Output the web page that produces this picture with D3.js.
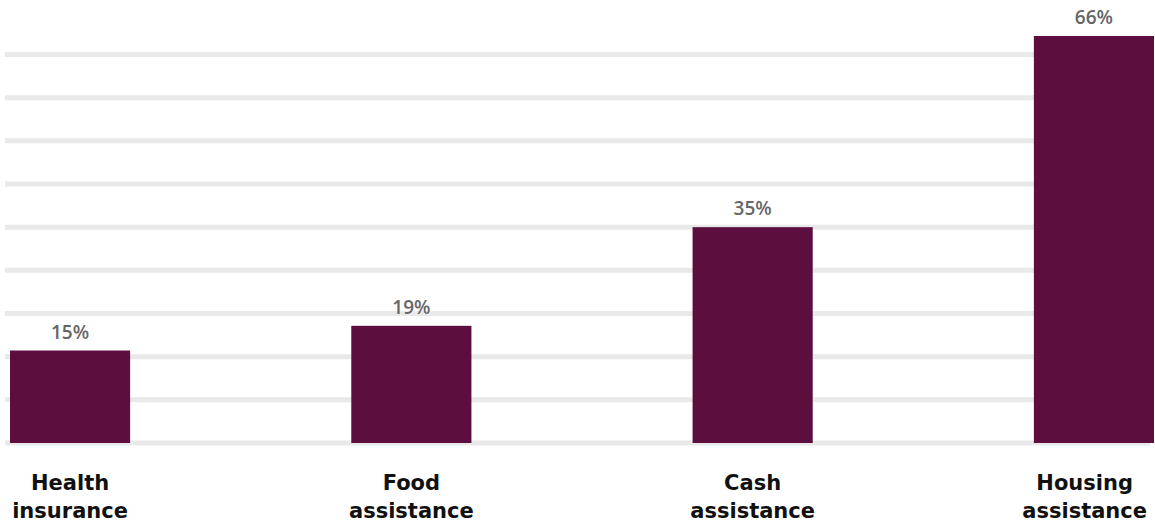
<!DOCTYPE html>
<html>
<head>
<meta charset="utf-8">
<script src="https://cdn.jsdelivr.net/npm/d3@7"></script>
<style>
  html, body { margin: 0; padding: 0; background: #fff; }
  svg { display: block; }
</style>
</head>
<body>
<svg id="chart" width="1155" height="522"></svg>
<script>
// Share of households receiving each kind of support
const categories = ["Health insurance", "Food assistance", "Cash assistance", "Housing assistance"];
const labelLines = [["Health", "insurance"], ["Food", "assistance"], ["Cash", "assistance"], ["Housing", "assistance"]];
const values = [15, 19, 35, 66];
const valueLabels = ["15%", "19%", "35%", "66%"];
const gridValues = d3.range(0, 64, 7);

const W = 1155;
const svg = d3.select("#chart");

const x = d3.scaleBand()
  .domain(categories)
  .range([10, 1154])
  .paddingInner(0.648)
  .paddingOuter(0);

const y = d3.scaleLinear()
  .domain([0, 66])
  .range([443, 36]);

// horizontal gridlines
svg.append("g")
  .selectAll("line")
  .data(gridValues)
  .join("line")
  .attr("x1", 5)
  .attr("x2", 1150)
  .attr("y1", d => y(d))
  .attr("y2", d => y(d))
  .attr("stroke", "#e9e9e9")
  .attr("stroke-width", 5);

// bars
svg.append("g")
  .selectAll("rect")
  .data(values)
  .join("rect")
  .attr("x", (d, i) => x(categories[i]))
  .attr("width", x.bandwidth())
  .attr("y", d => y(d))
  .attr("height", d => y(0) - y(d))
  .attr("fill", "#5c0f3e");

// value labels
svg.append("g")
  .selectAll("text")
  .data(values)
  .join("text")
  .attr("x", (d, i) => x(categories[i]) + x.bandwidth() / 2)
  .attr("y", d => y(d) - 12)
  .attr("text-anchor", "middle")
  .attr("font-family", "'Open Sans', sans-serif")
  .attr("font-weight", 600)
  .attr("font-size", 19)
  .attr("fill", "#666666")
  .text((d, i) => valueLabels[i]);

// category labels, kept inside the drawing edges
const cat = svg.append("g")
  .selectAll("text")
  .data(categories)
  .join("text")
  .attr("y", 490)
  .attr("text-anchor", "middle")
  .attr("font-family", "'DejaVu Sans', sans-serif")
  .attr("font-weight", 700)
  .attr("font-size", 21)
  .attr("fill", "#111111");

cat.selectAll("tspan")
  .data((d, i) => labelLines[i])
  .join("tspan")
  .attr("dy", (d, i) => i === 0 ? 0 : 28)
  .text(d => d);

cat.each(function (d) {
  const t = d3.select(this);
  let maxW = 0;
  t.selectAll("tspan").each(function () { maxW = Math.max(maxW, this.getComputedTextLength()); });
  let cx = x(d) + x.bandwidth() / 2;
  cx = Math.min(cx, W - 8 - maxW / 2);
  cx = Math.max(cx, 8 + maxW / 2);
  t.selectAll("tspan").attr("x", cx);
});
</script>
</body>
</html>
